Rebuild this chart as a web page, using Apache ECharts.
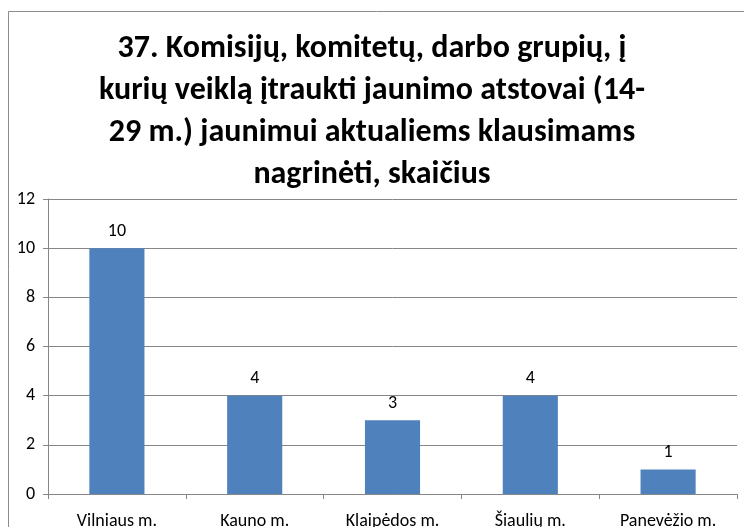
<!DOCTYPE html>
<html>
<head>
<meta charset="utf-8">
<script src="https://cdn.jsdelivr.net/npm/echarts@6/dist/echarts.min.js"></script>
<style>
  html, body { margin: 0; padding: 0; background: #fff; }
  #chart { width: 744px; height: 527px; }
</style>
</head>
<body>
<div id="chart"></div>
<script>
  // data
  var titleLines = [
    '37. Komisijų, komitetų, darbo grupių, į',
    'kurių veiklą įtraukti jaunimo atstovai (14-',
    '29 m.) jaunimui aktualiems klausimams',
    'nagrinėti, skaičius'
  ];
  var cities = ['Vilniaus m.', 'Kauno m.', 'Klaipėdos m.', 'Šiaulių m.', 'Panevėžio m.'];
  var counts = [10, 4, 3, 4, 1];

  var font = 'Carlito, "Liberation Sans Narrow", "Open Sans", sans-serif';
  var myChart = echarts.init(document.getElementById('chart'));

  var option = {
    animation: false,
    title: {
      text: titleLines.join('\n'),
      left: 'center',
      top: 23,
      textStyle: {
        fontFamily: font,
        fontSize: 32,
        fontWeight: 'bold',
        color: '#000',
        lineHeight: 42
      }
    },
    graphic: [{
      type: 'rect',
      shape: { x: 8.5, y: 11.5, width: 760, height: 540 },
      style: { fill: 'none', stroke: '#8c8c8c', lineWidth: 1 },
      silent: true
    }],
    grid: {
      left: 48,
      right: 7,
      top: 199,
      bottom: 33,
      outerBoundsMode: 'none',
      containLabel: false
    },
    xAxis: {
      type: 'category',
      data: cities,
      axisLine: { lineStyle: { color: '#868686' } },
      axisTick: { show: true, length: 5, lineStyle: { color: '#868686' } },
      axisLabel: {
        fontFamily: font,
        fontSize: 18,
        color: '#000',
        margin: 18
      }
    },
    yAxis: {
      type: 'value',
      min: 0,
      max: 12,
      interval: 2,
      axisLine: { show: true, lineStyle: { color: '#868686' } },
      axisTick: { show: true, length: 5, lineStyle: { color: '#868686' } },
      splitLine: { lineStyle: { color: '#868686' } },
      axisLabel: {
        fontFamily: font,
        fontSize: 18,
        color: '#000',
        margin: 13
      }
    },
    series: [{
      type: 'bar',
      data: counts,
      barWidth: '40%',
      itemStyle: { color: '#4f81bd' },
      label: {
        show: true,
        position: 'top',
        distance: 8,
        fontFamily: font,
        fontSize: 18,
        color: '#000'
      }
    }]
  };

  myChart.setOption(option);
</script>
</body>
</html>
